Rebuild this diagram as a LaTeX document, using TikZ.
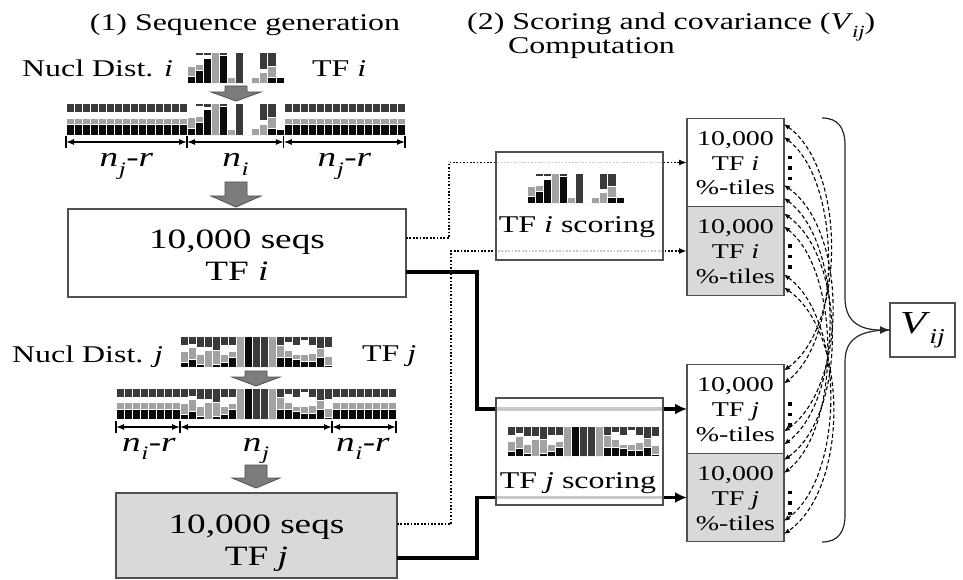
\documentclass[tikz,border=0pt]{standalone}
\usepackage{fontspec}
\setmainfont{Liberation Serif}[FakeStretch=1.33]
\usetikzlibrary{arrows.meta}

\definecolor{cdark}{HTML}{3A3A3A}
\definecolor{cmid}{HTML}{A2A2A2}
\definecolor{cblk}{HTML}{0A0A0A}
\definecolor{cedge}{HTML}{505050}
\definecolor{cfill}{HTML}{D9D9D9}
\definecolor{carrow}{HTML}{7C7C7C}

\newcommand\fs[1]{\fontsize{#1}{#1}\selectfont}
\newcommand\nsub[2]{\textit{n}\kern0.5pt\raisebox{-0.3em}{\fs{19}\textit{#1}}\kern0.5pt-\textit{#2}}
\newcommand\Vij[1]{\textit{V}\kern-1pt\raisebox{-0.3em}{\fs{#1}\textit{ij}}}

% one column of a nucleotide-frequency logo:
% x, top, width, height, then the shares of dark / white / mid grey / black
\newcommand\nuccol[8]{%
  \pgfmathsetmacro\ya{#2+(#5)*(#4)}%
  \pgfmathsetmacro\yb{\ya+(#6)*(#4)}%
  \pgfmathsetmacro\yc{\yb+(#7)*(#4)}%
  \pgfmathsetmacro\xr{#1+#3}%
  \filldraw[fill=cdark,draw=white,line width=0.5pt] (#1,#2) rectangle (\xr,\ya);
  \filldraw[fill=white,draw=white,line width=0.5pt] (#1,\ya) rectangle (\xr,\yb);
  \filldraw[fill=cmid,draw=white,line width=0.5pt] (#1,\yb) rectangle (\xr,\yc);
  \filldraw[fill=cblk,draw=white,line width=0.5pt] (#1,\yc) rectangle (\xr,#2+#4);
}
% a logo: x, top, column width, height, list of columns
\newcommand\logo[5]{%
  \foreach \da/\wa/\ga/\ba [count=\k from 0] in #5 {%
    \pgfmathsetmacro\xl{#1+\k*(#3)}%
    \nuccol{\xl}{#2}{#3}{#4}{\da}{\wa}{\ga}{\ba}%
  }}
% background (uniform) columns: x, top, column width, height, number of columns
\newcommand\flank[5]{%
  \foreach \k in {1,...,#5} {%
    \pgfmathsetmacro\xl{#1+(\k-1)*(#3)}%
    \nuccol{\xl}{#2}{#3}{#4}{.3}{.17}{.2}{.33}%
  }}
% grey block arrow: centre x, top, shaft width, shaft length, head width, head length
\newcommand\blockarrow[6]{%
  \filldraw[fill=carrow,draw=cedge,line width=0.8pt]
   (#1-#3/2,#2) -- (#1+#3/2,#2) -- (#1+#3/2,#2+#4) -- (#1+#5/2,#2+#4)
   -- (#1,#2+#4+#6) -- (#1-#5/2,#2+#4) -- (#1-#3/2,#2+#4) -- cycle;}

\def\motifI{0/.45/.33/.22, .1/.3/.2/.4, .12/.08/0/.8, 0/0/1/0, .1/0/0/.9,
  0/.82/.18/0, 1/0/0/0, 0/1/0/0, 0/.8/.2/0, .55/.1/.35/0, .45/0/.35/.2, 0/.82/0/.18}
\def\motifJ{.3/.2/.35/.15, .25/.1/.4/.25, .35/.25/.3/.1, .35/.1/.55/0, .45/0/.45/.1,
  .3/.3/.25/.15, .3/.2/.2/.3, 0/0/1/0, 0/0/0/1, 1/0/0/0, 1/0/0/0, 0/0/1/0,
  .3/0/.4/.3, .2/.25/.25/.3, .3/.3/.15/.25, .15/.45/.2/.2, .3/.25/.25/.2,
  .4/0/.3/.3, .35/.3/.3/.05}

\begin{document}
\begin{tikzpicture}[x=1pt,y=-1pt,
  lab/.style={inner sep=0pt,font=\fs{24}},
  dimlab/.style={inner sep=0pt,anchor=base,font=\fs{28}},
  box/.style={draw=cedge,line width=1.3pt,inner sep=0pt,outer sep=0pt,align=center},
  seqbox/.style={box,font=\fontsize{28}{32}\selectfont,text depth=0pt},
  pctbox/.style={box,minimum width=97pt,minimum height=88.5pt,
    font=\fontsize{21}{25}\selectfont,text height=65pt,text depth=0pt},
  scorebox/.style={box,fill=white,fill opacity=0.78,minimum width=167pt},
  dimline/.style={line width=1.2pt,{Latex[length=8pt,width=6pt]}-{Latex[length=8pt,width=6pt]}},
  tick/.style={line width=1.2pt},
  dotconn/.style={line width=1.7pt,dash pattern=on 1.7pt off 1.7pt,
    -{Latex[length=8pt,width=6pt]}},
  thickconn/.style={line width=3.6pt,-{Latex[length=12pt,width=11pt]}},
  covar/.style={line width=1.1pt,dash pattern=on 4pt off 2.5pt,
    {Latex[length=6pt,width=5pt]}-{Latex[length=6pt,width=5pt]}},
  vdots/.style={line width=3.5pt,dash pattern=on 3.5pt off 7pt},
  brace/.style={line width=1.2pt,draw=black!85}]

\useasboundingbox (0,0) rectangle (963,580);
\fill[white] (0,0) rectangle (963,580);

% ---------- headings ----------
\node[lab,anchor=base] (headA) at (245,31) {(1) Sequence generation};
\node[lab,anchor=base west] (headB) at (467,30) {(2) Scoring and covariance (\Vij{17})};
\node[lab,anchor=base west] (headC) at (508,54) {Computation};

% ---------- TF i sequences ----------
\node[lab,anchor=base west] (ndI) at (22,77) {Nucl Dist. \textit{i}};
\node[lab,anchor=base west] (tfI) at (312,77) {TF \textit{i}};
\logo{187}{52}{8.07}{31}{\motifI}
\blockarrow{236}{86}{22}{6}{50}{9}
\flank{66}{103}{8.07}{32}{15}
\logo{187}{103}{8.07}{32}{\motifI}
\flank{283.84}{103}{8.07}{32}{15}

\coordinate (dI0) at (66,142);
\coordinate (dI1) at (187,142);
\coordinate (dI2) at (283.8,142);
\coordinate (dI3) at (405,142);
\foreach \p in {dI0,dI1,dI2,dI3} \draw[tick] ([yshift=6pt]\p) -- ([yshift=-6pt]\p);
\draw[dimline] (dI0) -- (dI1);
\draw[dimline] (dI1) -- (dI2);
\draw[dimline] (dI2) -- (dI3);
\node[dimlab] (lI0) at (126.5,167) {\nsub{j}{r}};
\node[dimlab] (lI1) at (235.5,167) {\textit{n}\kern0.5pt\raisebox{-0.3em}{\fs{19}\textit{i}}};
\node[dimlab] (lI2) at (344.5,167) {\nsub{j}{r}};

\blockarrow{236}{182}{22}{14}{50}{11}
\node[seqbox,minimum width=338pt,minimum height=88pt,text height=54pt]
  (seqI) at (237,253) {10,000 seqs\\TF \textit{i}};

% ---------- TF j sequences ----------
\node[lab,anchor=base west] (ndJ) at (12,362) {Nucl Dist. \textit{j}};
\node[lab,anchor=base west] (tfJ) at (362,361) {TF \textit{j}};
\logo{180}{336}{8}{31}{\motifJ}
\blockarrow{256}{371}{22}{6}{48}{9}
\flank{116}{388}{8}{31}{8}
\logo{180}{388}{8}{31}{\motifJ}
\flank{332}{388}{8}{31}{8}

\coordinate (dJ0) at (116,427);
\coordinate (dJ1) at (180,427);
\coordinate (dJ2) at (332,427);
\coordinate (dJ3) at (396,427);
\foreach \p in {dJ0,dJ1,dJ2,dJ3} \draw[tick] ([yshift=6pt]\p) -- ([yshift=-6pt]\p);
\draw[dimline] (dJ0) -- (dJ1);
\draw[dimline] (dJ1) -- (dJ2);
\draw[dimline] (dJ2) -- (dJ3);
\node[dimlab] (lJ0) at (149,451) {\nsub{i}{r}};
\node[dimlab] (lJ1) at (256,451) {\textit{n}\kern0.5pt\raisebox{-0.3em}{\fs{19}\textit{j}}};
\node[dimlab] (lJ2) at (363,451) {\nsub{i}{r}};

\blockarrow{256}{465}{22}{13}{48}{10}
\node[seqbox,fill=cfill,minimum width=281pt,minimum height=85pt,text height=59pt]
  (seqJ) at (256.5,535.5) {10,000 seqs\\TF \textit{j}};

% ---------- percentile tables ----------
\node[pctbox] (pctIw) at (735.5,162.5) {10,000\\TF \textit{i}\\\%-tiles};
\node[pctbox,fill=cfill] (pctIg) at (735.5,251) {10,000\\TF \textit{i}\\\%-tiles};
\node[pctbox] (pctJw) at (735.5,409) {10,000\\TF \textit{j}\\\%-tiles};
\node[pctbox,fill=cfill] (pctJg) at (735.5,497.5) {10,000\\TF \textit{j}\\\%-tiles};
\foreach \b in {pctIw,pctIg,pctJw,pctJg}
  \draw[vdots] ([xshift=6pt,yshift=-37.5pt]\b.north east) -- ++(0,24.5);

\node[box,minimum width=65pt,minimum height=54pt,font=\fs{32}] (vbox) at (922.5,330) {\Vij{21}};

% ---------- connectors ----------
\draw[dotconn] ([yshift=15pt]seqI.east) -- ++(43,0) |- (pctIw.west);
\draw[dotconn] ([yshift=11.5pt]seqJ.east) -- ++(54,0) |- (pctIg.west);
\draw[thickconn] ([yshift=-19pt]seqI.east) -- ++(71,0) |- (pctJw.west);
\draw[thickconn] ([yshift=-22.5pt]seqJ.east) -- ++(80,0) |- (pctJg.west);

% ---------- scoring steps ----------
\node[scorebox,minimum height=108pt] (scoreI) at (579.5,206) {};
\logo{527}{173}{8.07}{30}{\motifI}
\node[lab,anchor=base] (scoreIt) at (577,232) {TF \textit{i} scoring};
\node[scorebox,minimum height=107pt] (scoreJ) at (579.5,451.5) {};
\logo{507}{426}{8}{30}{\motifJ}
\node[lab,anchor=base] (scoreJt) at (578,488) {TF \textit{j} scoring};

% ---------- covariance pairs ----------
\foreach \ia/\ib/\ja/\jb/\cx in {
  pctIw/38.5/pctJw/38.5/62, pctIw/25.5/pctJw/25.5/58,
  pctIw/-22.5/pctJw/-22.5/64, pctIw/-35.5/pctJw/-35.5/60,
  pctIg/37.5/pctJg/37.5/63, pctIg/24.5/pctJg/24.5/57,
  pctIg/-23.5/pctJg/-23.5/61, pctIg/-36.5/pctJg/-36.5/65}
  \draw[covar] ([yshift=\ib pt]\ia.east) .. controls +(\cx,45) and +(\cx,-45) .. ([yshift=\jb pt]\ja.east);

% ---------- brace into V_ij ----------
\coordinate (brTop) at (822,118);
\coordinate (brBot) at (822,542);
\draw[brace,-{Latex[length=10pt,width=8pt]}] (brTop) .. controls (838,118) and (845,128) .. (845,145)
  -- (845,298) .. controls (845,320) and (858,330) .. (vbox.west);
\draw[brace] (brBot) .. controls (838,542) and (845,532) .. (845,515)
  -- (845,362) .. controls (845,340) and (858,330) .. (vbox.west);
\end{tikzpicture}
\end{document}
